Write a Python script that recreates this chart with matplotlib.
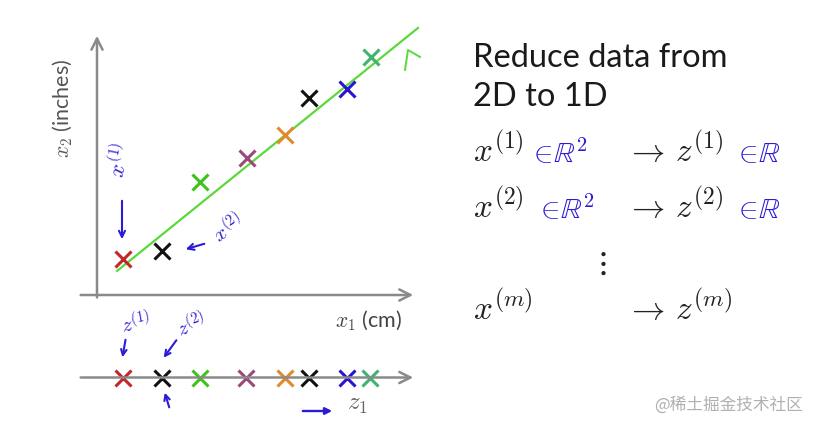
import matplotlib
matplotlib.use('Agg')
import matplotlib.pyplot as plt

plt.rcParams['mathtext.fontset'] = 'cm'

W, H = 821, 430

# ---- data ----
x1 = [0.82, 2.04, 3.23, 4.70, 5.89, 6.65, 7.84, 8.59]
x2 = [1.37, 1.68, 4.31, 5.23, 6.11, 7.52, 7.86, 9.08]
z1 = [0.82, 2.04, 3.23, 4.67, 5.89, 6.65, 7.84, 8.56]
colors = ['#c0282c', '#111111', '#3ec21e', '#9a4a78', '#e08a2c',
          '#111111', '#2a14d0', '#3fb36f']
line_x1 = [0.63, 10.06]
line_x2 = [0.92, 10.19]

title_lines = ['Reduce data from', '2D to 1D']
left_terms = [r'$x^{(1)}$', r'$x^{(2)}$', r'$x^{(m)}$']
right_terms = [r'$\rightarrow\, z^{(1)}$', r'$\rightarrow\, z^{(2)}$', r'$\rightarrow\, z^{(m)}$']

BLUE = '#2b1bd6'
GRAY = '#8a8a8a'

fig = plt.figure(figsize=(W / 100, H / 100), dpi=100)
fig.patch.set_facecolor('white')


def fx(px):
    return px / W


def fy(py):
    return 1 - py / H


def ftext(px, py, s, **kw):
    fig.text(fx(px), fy(py), s, **kw)


def farrow(p0, p1, style='->', ms=11, lw=1.5, color=BLUE):
    fig.add_artist(matplotlib.patches.FancyArrowPatch(
        (fx(p0[0]), fy(p0[1])), (fx(p1[0]), fy(p1[1])),
        transform=fig.transFigure, arrowstyle=style, mutation_scale=ms,
        color=color, lw=lw))


# ---- main 2D axes ----
ax = fig.add_axes([fx(97), fy(295), 333 / W, 275 / H])
ax.set_xlim(0, 333 / 31.9)
ax.set_ylim(0, 275 / 26.2)
ax.axis('off')
ax.annotate('', xy=(10.0, 0), xytext=(-0.6, 0),
            arrowprops=dict(arrowstyle='->', color=GRAY, lw=1.8, mutation_scale=20),
            annotation_clip=False)
ax.annotate('', xy=(0, 10.0), xytext=(0, -0.2),
            arrowprops=dict(arrowstyle='->', color=GRAY, lw=1.8, mutation_scale=20),
            annotation_clip=False)
ax.plot(line_x1, line_x2, color='#5ad93a', lw=1.6, clip_on=False)
for a, b, c in zip(x1, x2, colors):
    ax.plot(a, b, marker='x', color=c, ms=12, mew=2.2, clip_on=False)

# ---- projected 1D axes ----
az = fig.add_axes([fx(97), fy(395), 333 / W, 35 / H])
az.set_xlim(0, 333 / 31.9)
az.set_ylim(-1, 1)
az.axis('off')
az.annotate('', xy=(10.0, 0), xytext=(-0.6, 0),
            arrowprops=dict(arrowstyle='->', color=GRAY, lw=1.8, mutation_scale=20),
            annotation_clip=False)
for a, c in zip(z1, colors):
    az.plot(a, 0, marker='x', color=c, ms=12, mew=2.2, clip_on=False)

# ---- axis labels ----
ftext(63, 108, r'$x_2$ (inches)', rotation=90, ha='center', va='center',
      fontsize=15.5, color='#555555', family='Lato')
ftext(369, 321, r'$x_1$ (cm)', ha='center', va='center',
      fontsize=15.5, color='#444444', family='Lato')
ftext(357, 404, r'$z_1$', ha='center', va='center', fontsize=18, color='#666666')

# ---- handwritten annotations ----
ftext(119, 160, r'$x^{(1)}$', rotation=78, ha='center', va='center', fontsize=16, color=BLUE)
farrow((122, 198), (122, 242))
ftext(228, 228, r'$x^{(2)}$', rotation=35, ha='center', va='center', fontsize=15, color=BLUE)
farrow((207, 243), (183, 250))
ftext(136, 322, r'$z^{(1)}$', rotation=10, ha='center', va='center', fontsize=15, color=BLUE)
farrow((126, 337), (122, 360), ms=10)
ftext(191, 324, r'$z^{(2)}$', rotation=20, ha='center', va='center', fontsize=15, color=BLUE)
farrow((178, 338), (162, 360), ms=10)
farrow((170, 410), (164, 390), ms=10)
farrow((300, 411), (335, 411), style='-|>', ms=10, lw=1.7)
fig.add_artist(matplotlib.lines.Line2D([fx(405), fx(408), fx(420)], [fy(70), fy(50), fy(57)],
               transform=fig.transFigure, color='#5ad93a', lw=1.4))

# ---- right-hand text ----
ftext(473, 67, title_lines[0], ha='left', va='baseline', fontsize=23.5, color='#1a1a1a', family='Lato')
ftext(473, 106, title_lines[1], ha='left', va='baseline', fontsize=23.5, color='#1a1a1a', family='Lato')
rows_y = [162, 218, 320]
for ly, lt, rt in zip(rows_y, left_terms, right_terms):
    ftext(473, ly, lt, ha='left', va='baseline', fontsize=24, color='#222222')
    ftext(626, ly, rt, ha='left', va='baseline', fontsize=24, color='#222222')
ftext(528, 162, r'$\in\!\mathbb{R}^2$', ha='left', va='baseline', fontsize=21, color=BLUE)
ftext(535, 218, r'$\in\!\mathbb{R}^2$', ha='left', va='baseline', fontsize=21, color=BLUE)
ftext(733, 162, r'$\in\!\mathbb{R}$', ha='left', va='baseline', fontsize=21, color=BLUE)
ftext(733, 218, r'$\in\!\mathbb{R}$', ha='left', va='baseline', fontsize=21, color=BLUE)
ftext(600, 262, r'$\vdots$', ha='center', va='center', fontsize=24, color='#222222')

# watermark
ftext(803, 405, '@稀土掘金技术社区', ha='right', va='center', fontsize=12,
      color='#b0b0b0', family=['Noto Sans CJK SC', 'DejaVu Sans'])

fig.savefig('out.png', dpi=100, facecolor='white')
